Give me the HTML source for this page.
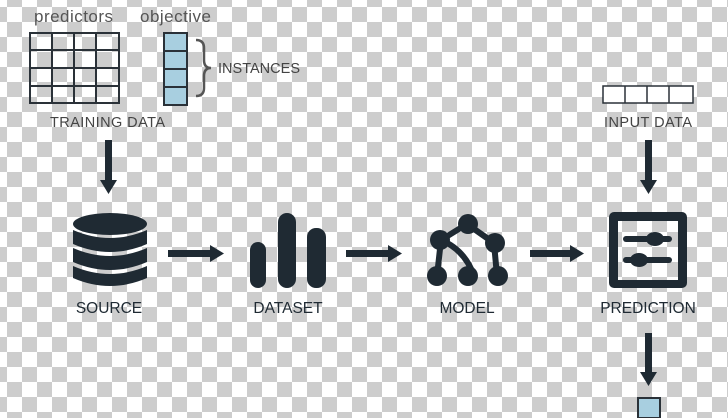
<!DOCTYPE html>
<html><head><style>
html,body{margin:0;padding:0}
body{width:728px;height:418px;overflow:hidden;position:relative;
background-color:#fff;
background-image:linear-gradient(45deg,#cdcdcd 25%,transparent 25%,transparent 75%,#cdcdcd 75%),linear-gradient(45deg,#cdcdcd 25%,transparent 25%,transparent 75%,#cdcdcd 75%);
background-size:30px 30px;background-position:-8px -8px,7px 7px;
font-family:"Liberation Sans",sans-serif}
</style></head><body>
<svg width="728" height="418" style="position:absolute;left:0;top:0" font-family="Liberation Sans, sans-serif">
<g fill="#555" font-size="17"><text x="34" y="22" textLength="79">predictors</text><text x="140" y="22" textLength="71">objective</text></g>
<g stroke="#2a3138" stroke-width="2" fill="none">
<rect x="30" y="33" width="89" height="70"/>
<line x1="52" y1="33" x2="52" y2="103"/><line x1="74" y1="33" x2="74" y2="103"/><line x1="96" y1="33" x2="96" y2="103"/>
<line x1="30" y1="50" x2="119" y2="50"/><line x1="30" y1="68" x2="119" y2="68"/><line x1="30" y1="86" x2="119" y2="86"/>
</g>
<g stroke="#2a3138" stroke-width="2" fill="#a8cfe0">
<rect x="164" y="33" width="23" height="72"/>
<line x1="164" y1="51" x2="187" y2="51"/><line x1="164" y1="69" x2="187" y2="69"/><line x1="164" y1="87" x2="187" y2="87"/>
</g>
<path d="M196 40 q8 0 8 8 v12 q0 8 7 8 q-7 0 -7 8 v12 q0 8 -8 8" stroke="#555" stroke-width="2.5" fill="none"/>
<g fill="#444" font-size="14.5"><text x="218" y="73" textLength="82">INSTANCES</text><text x="50" y="127" textLength="115">TRAINING DATA</text><text x="604" y="127" textLength="88">INPUT DATA</text></g>
<g stroke="#2a3138" stroke-width="1.5" fill="#fff">
<rect x="603" y="86" width="90" height="17"/>
<line x1="625" y1="86" x2="625" y2="103"/><line x1="647" y1="86" x2="647" y2="103"/><line x1="669" y1="86" x2="669" y2="103"/>
</g>
<g fill="#1f2a33">
<rect x="105" y="140" width="7" height="42"/><path d="M100 180h17l-8.5 14z"/>
<rect x="645" y="140" width="7" height="42"/><path d="M640 180h17l-8.5 14z"/>
<rect x="645" y="333" width="7" height="42"/><path d="M640 372h17l-8.5 14z"/>
<rect x="168" y="250" width="44" height="7"/><path d="M210 245v17l14-8.5z"/>
<rect x="346" y="250" width="44" height="7"/><path d="M388 245v17l14-8.5z"/>
<rect x="530" y="250" width="42" height="7"/><path d="M570 245v17l14-8.5z"/>
<ellipse cx="110" cy="224" rx="37" ry="11"/>
<path d="M73 230 q37 16 74 0 v14 q-37 16 -74 0z"/>
<path d="M73 248 q37 16 74 0 v14 q-37 16 -74 0z"/>
<path d="M73 266 q37 16 74 0 v12 q-37 16 -74 0 z"/>
<rect x="250" y="242" width="16" height="46" rx="8"/>
<rect x="278" y="213" width="18" height="75" rx="9"/>
<rect x="307" y="228" width="19" height="60" rx="9"/>
<path fill-rule="evenodd" d="M614 212h68a5 5 0 0 1 5 5v66a5 5 0 0 1 -5 5h-68a5 5 0 0 1 -5 -5v-66a5 5 0 0 1 5 -5zM618 221v59h60v-59z"/>
<rect x="623" y="236" width="49" height="6" rx="3"/><ellipse cx="655" cy="239" rx="9" ry="7"/>
<rect x="623" y="257" width="49" height="6" rx="3"/><ellipse cx="639" cy="260" rx="9" ry="7"/>
<rect x="638" y="398" width="22" height="20" fill="#a8cfe0" stroke="#2a3138" stroke-width="2"/>
</g>
<g stroke="#1f2a33" stroke-width="6" fill="none">
<path d="M467 224 L441 240 M467 224 L494 243 M441 240 Q465 250 474 276 M441 240 L437 276 M494 243 L497 276"/>
</g>
<g fill="#1f2a33">
<circle cx="468" cy="224" r="10"/><circle cx="440" cy="240" r="10"/><circle cx="495" cy="243" r="10"/>
<circle cx="437" cy="276" r="10"/><circle cx="468" cy="276" r="10"/><circle cx="498" cy="276" r="10"/>
</g>
<g fill="#1f2a33" font-size="15.5" text-anchor="middle">
<text x="109" y="313">SOURCE</text><text x="288" y="313">DATASET</text><text x="467" y="313">MODEL</text><text x="648" y="313">PREDICTION</text>
</g>
</svg>
</body></html>
